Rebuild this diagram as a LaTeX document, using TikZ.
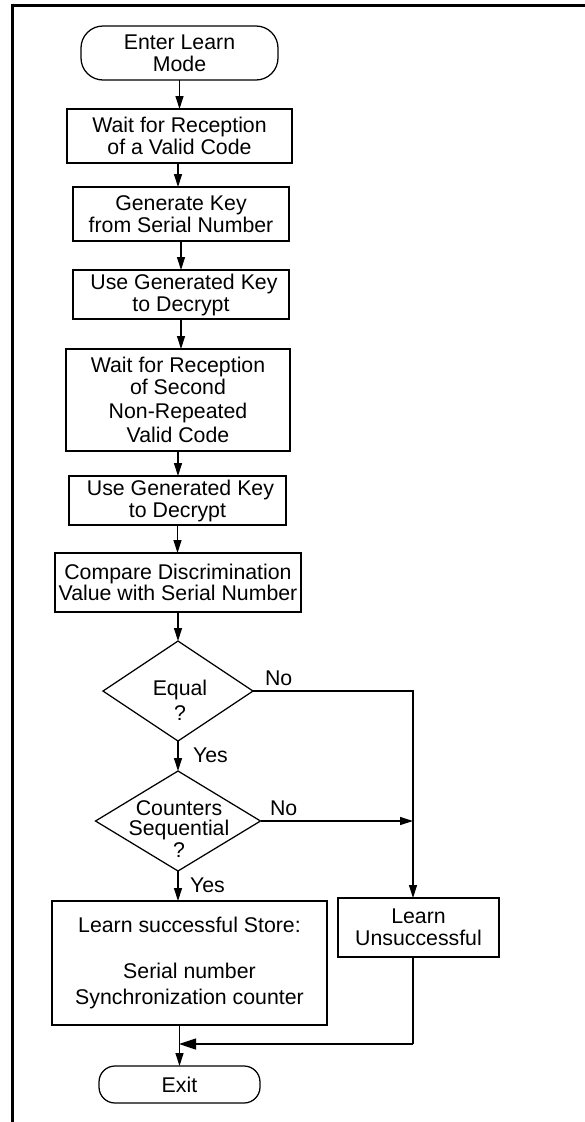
\documentclass[tikz,border=0pt]{standalone}
\usepackage{fontspec}
\setmainfont{Liberation Sans}
\usetikzlibrary{arrows.meta,shapes.geometric,calc}
\begin{document}
\begin{tikzpicture}[x=1pt,y=-1pt,
  every node/.style={font=\fontsize{21.3}{22}\selectfont, inner sep=0pt, outer sep=0pt},
  box/.style={draw, line width=1.25pt, align=center},
  term/.style={draw, line width=1.25pt, align=center},
  dia/.style={draw, line width=1.25pt, shape=diamond},
  dtext/.style={align=center},
  lbl/.style={anchor=base west},
  arr/.style={line width=1.25pt, -{Triangle[length=13pt,width=8pt]}},
  bigarr/.style={line width=1.25pt, -{Triangle[length=17pt,width=11pt]}},
  ln/.style={line width=1.25pt}
]
\useasboundingbox (0,0) rectangle (585,1122);
% frame
\draw[line width=3pt] (585,5) -- (12.5,5);
\draw[line width=2.2pt] (12.5,3.5) -- (12.5,1122);

\node[term, rounded corners=22pt, minimum width=197pt, minimum height=54pt] (start) at (179.5,53) {Enter Learn\\Mode};
\node[box, minimum width=225pt, minimum height=54pt] (b1) at (179.5,136) {Wait for Reception\\of a Valid Code};
\node[box, minimum width=216pt, minimum height=54pt] (b2) at (181,214) {Generate Key\\from Serial Number};
\node[box, minimum width=216pt, minimum height=49pt] (b3) at (181,294.5) {~Use Generated Key\\to Decrypt};
\node[box, minimum width=224pt, minimum height=102pt] (b4) at (178,400) {Wait for Reception\\of Second\\[2pt]Non-Repeated\\[2pt]Valid Code};
\node[box, minimum width=217pt, minimum height=49pt] (b5) at (177.5,500.5) {~Use Generated Key\\to Decrypt};
\node[box, minimum width=246pt, minimum height=59pt] (b6) at (178,582.5) {Compare Discrimination\\[-1pt]Value with Serial Number};
\node[dia, minimum width=150pt, minimum height=100pt] (d1) at (178,691) {};
\node[dtext] (d1t) at (180,700.5) {Equal\\[3pt]?};
\node[dia, minimum width=165pt, minimum height=100pt] (d2) at (178,821) {};
\node[dtext] (d2t) at (179,829) {Counters\\[-2pt]Sequential\\?};
\node[box, minimum width=275pt, minimum height=124pt] (b7) at (189.5,963) {Learn successful Store:\\[24pt]Serial number\\[4pt]Synchronization counter};
\node[box, minimum width=161pt, minimum height=59pt] (b8) at (418.5,927.5) {Learn\\Unsuccessful};
\node[term, rounded corners=16pt, minimum width=161pt, minimum height=37pt] (exit) at (179.5,1084.5) {Exit};

\coordinate (col) at (413,700);
\coordinate (m) at (179,1044);

% main flow
\draw[arr] (start) -- (start |- b1.north);
\draw[arr] (b1.south -| 178,0) -- (178,0 |- b2.north);
\draw[arr] (b2) -- (b2 |- b3.north);
\draw[arr] (b3) -- (b3 |- b4.north);
\draw[arr] (b4) -- (b4 |- b5.north);
\draw[arr] (b5) -- (b5 |- b6.north);
\draw[arr] (b6) -- (d1.north);
\draw[arr] (d1.south) -- (d2.north);
\draw[arr] (d2.south) -- (d2.south |- b7.north);
\draw[arr] (exit |- b7.south) -- (exit.north);

% no branches
\draw[ln] (d1.east) -- (d1.east -| col) -- (col |- d2.east);
\draw[arr] (col |- d2.east) -- (col |- b8.north);
\draw[arr] (d2.east) -- (d2.east -| col);
\draw[ln] (col |- b8.south) -- (col |- m);
\draw[bigarr] (col |- m) -- (m);

% labels
\node[lbl] (no1) at (265,685) {No};
\node[lbl] (no2) at (270,815) {No};
\node[lbl] (yes1) at (193,762) {Yes};
\node[lbl] (yes2) at (190,892) {Yes};
\end{tikzpicture}
\end{document}
